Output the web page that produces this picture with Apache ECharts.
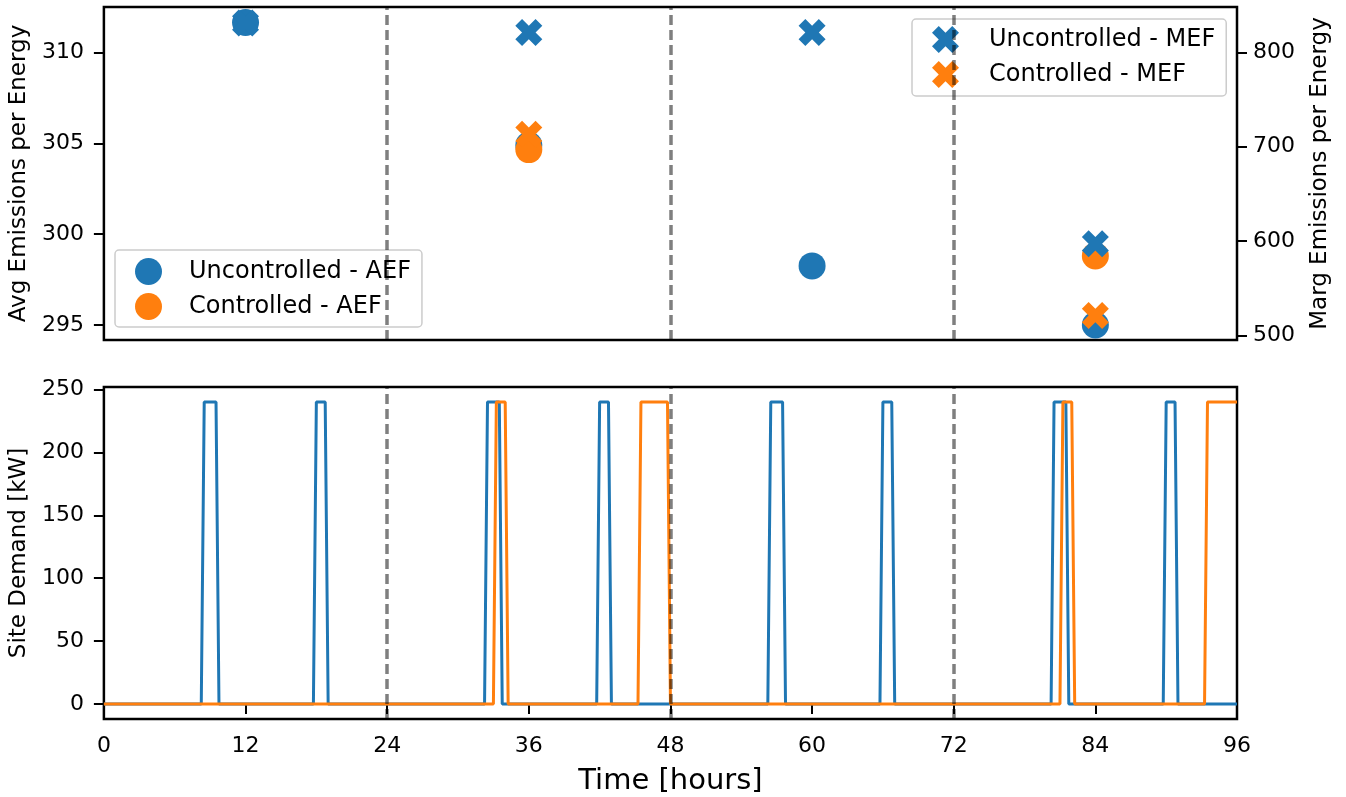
<!DOCTYPE html>
<html>
<head>
<meta charset="utf-8">
<script src="https://cdn.jsdelivr.net/npm/echarts@6/dist/echarts.min.js"></script>
<style>
html,body{margin:0;padding:0;background:#fff;}
#chart{width:1346px;height:797px;}
</style>
</head>
<body>
<div id="chart"></div>
<script>
// ---- data ----
const dayMid = [12, 36, 60, 84];
const uncAEF = [311.65, 304.9, 298.25, 295.0];
const ctrlAEF = [null, 304.65, null, 298.8];
const uncMEF = [831, 821, 821, 597];
const ctrlMEF = [null, 713, null, 521];

const uncTime = [0, 8.25, 8.5, 9.5, 9.75, 17.75, 18, 18.75, 19, 32.25, 32.5, 33.5, 33.75, 41.75, 42, 42.75, 43, 56.25, 56.5, 57.5, 57.75, 65.75, 66, 66.75, 67, 80.25, 80.5, 81.5, 81.75, 89.75, 90, 90.75, 91, 96];
const uncKW   = [0, 0, 240, 240, 0, 0, 240, 240, 0, 0, 240, 240, 0, 0, 240, 240, 0, 0, 240, 240, 0, 0, 240, 240, 0, 0, 240, 240, 0, 0, 240, 240, 0, 0];
const ctrlTime = [0, 33, 33.25, 34, 34.25, 45.25, 45.5, 47.75, 48, 81, 81.25, 82, 82.25, 93.25, 93.5, 96];
const ctrlKW   = [0, 0, 240, 240, 0, 0, 240, 240, 0, 0, 240, 240, 0, 0, 240, 240];

const dayBounds = [24, 48, 72];
const aefTicks = [295, 300, 305, 310];
const mefTicks = [500, 600, 700, 800];
const kwTicks = [0, 50, 100, 150, 200, 250];
const timeTicks = [0, 12, 24, 36, 48, 60, 72, 84, 96];

const names = {
  uA: 'Uncontrolled - AEF', cA: 'Controlled - AEF',
  uM: 'Uncontrolled - MEF', cM: 'Controlled - MEF'
};

// ---- styling ----
const BLUE = '#1f77b4', ORANGE = '#ff7f0e';
const FONT = 'DejaVu Sans';
const XPATH = 'path://M4242 0L5656 1414L4242 2828L5656 4242L4242 5656L2828 4242L1414 5656L0 4242L1414 2828L0 1414L1414 0L2828 1414Z';

function pairs(xs, ys) { return xs.map((x, i) => [x, ys[i]]); }

const tickStyle = { show: true, inside: false, length: 10, lineStyle: { color: '#000', width: 2 } };
const lblStyle = { color: '#000', fontFamily: FONT, fontSize: 22 };
const nameStyle = { color: '#000', fontFamily: FONT, fontSize: 23 };

const vline = {
  silent: true, symbol: 'none', label: { show: false },
  lineStyle: { color: 'rgba(0,0,0,0.5)', type: [10, 5], width: 3.5 },
  emphasis: { disabled: true },
  data: dayBounds.map(v => ({ xAxis: v }))
};

const chart = echarts.init(document.getElementById('chart'));
chart.setOption({
  animation: false,
  backgroundColor: '#fff',
  textStyle: { fontFamily: FONT },
  grid: [
    { left: 103, top: 7, width: 1134, height: 333, show: true, borderColor: '#000', borderWidth: 2.5, backgroundColor: 'transparent' },
    { left: 103, top: 387, width: 1134, height: 332, show: true, borderColor: '#000', borderWidth: 2.5, backgroundColor: 'transparent' }
  ],
  legend: [
    {
      left: 115, top: 250, orient: 'vertical', selectedMode: false,
      padding: [8, 11, 7, 20], itemGap: 8, itemWidth: 27, itemHeight: 27,
      backgroundColor: 'rgba(255,255,255,0.8)', borderColor: '#cccccc', borderWidth: 1.5, borderRadius: 4,
      textStyle: { color: '#000', fontFamily: FONT, fontSize: 24, padding: [0, 0, 0, 22] },
      data: [{ name: names.uA, icon: 'circle' }, { name: names.cA, icon: 'circle' }]
    },
    {
      left: 912, top: 19, orient: 'vertical', selectedMode: false,
      padding: [7, 11, 8, 20], itemGap: 8, itemWidth: 27, itemHeight: 27,
      backgroundColor: 'rgba(255,255,255,0.8)', borderColor: '#cccccc', borderWidth: 1.5, borderRadius: 4,
      textStyle: { color: '#000', fontFamily: FONT, fontSize: 24, padding: [0, 0, 0, 25] },
      data: [{ name: names.uM, icon: XPATH }, { name: names.cM, icon: XPATH }]
    }
  ],
  xAxis: [
    { type: 'value', gridIndex: 0, min: 0, max: 96, interval: 12,
      axisLine: { show: false }, axisTick: { show: false }, axisLabel: { show: false }, splitLine: { show: false } },
    { type: 'value', gridIndex: 1, min: 0, max: 96, interval: 12,
      axisLine: { show: false }, axisTick: tickStyle,
      axisLabel: Object.assign({ margin: 16, customValues: timeTicks }, lblStyle),
      splitLine: { show: false },
      name: 'Time [hours]', nameLocation: 'middle', nameGap: 48,
      nameTextStyle: { color: '#000', fontFamily: FONT, fontSize: 29 } }
  ],
  yAxis: [
    { type: 'value', gridIndex: 0, position: 'left', min: 294.17, max: 312.5,
      axisLine: { show: false }, splitLine: { show: false },
      axisTick: Object.assign({ customValues: aefTicks }, tickStyle),
      axisLabel: Object.assign({ margin: 20, customValues: aefTicks }, lblStyle),
      name: 'Avg Emissions per Energy', nameLocation: 'middle', nameGap: 70, nameRotate: 90,
      nameTextStyle: nameStyle },
    { type: 'value', gridIndex: 0, position: 'right', min: 495, max: 848,
      axisLine: { show: false }, splitLine: { show: false },
      axisTick: Object.assign({ customValues: mefTicks }, tickStyle),
      axisLabel: Object.assign({ margin: 16, customValues: mefTicks }, lblStyle),
      name: 'Marg Emissions per Energy', nameLocation: 'middle', nameGap: 72, nameRotate: 90,
      nameTextStyle: nameStyle },
    { type: 'value', gridIndex: 1, position: 'left', min: -12, max: 252,
      axisLine: { show: false }, splitLine: { show: false },
      axisTick: Object.assign({ customValues: kwTicks }, tickStyle),
      axisLabel: Object.assign({ margin: 20, customValues: kwTicks }, lblStyle),
      name: 'Site Demand [kW]', nameLocation: 'middle', nameGap: 70, nameRotate: 90,
      nameTextStyle: nameStyle }
  ],
  series: [
    { name: names.uA, type: 'scatter', xAxisIndex: 0, yAxisIndex: 0, symbol: 'circle', symbolSize: 27,
      itemStyle: { color: BLUE, opacity: 1 }, z: 2, data: pairs(dayMid, uncAEF), markLine: vline },
    { name: names.cA, type: 'scatter', xAxisIndex: 0, yAxisIndex: 0, symbol: 'circle', symbolSize: 27,
      itemStyle: { color: ORANGE, opacity: 1 }, z: 3, data: pairs(dayMid, ctrlAEF) },
    { name: names.uM, type: 'scatter', xAxisIndex: 0, yAxisIndex: 1, symbol: XPATH, symbolSize: 27,
      itemStyle: { color: BLUE, opacity: 1 }, z: 4, data: pairs(dayMid, uncMEF) },
    { name: names.cM, type: 'scatter', xAxisIndex: 0, yAxisIndex: 1, symbol: XPATH, symbolSize: 27,
      itemStyle: { color: ORANGE, opacity: 1 }, z: 5, data: pairs(dayMid, ctrlMEF) },
    { name: 'Uncontrolled demand', type: 'line', xAxisIndex: 1, yAxisIndex: 2, showSymbol: false, symbol: 'none',
      lineStyle: { color: BLUE, width: 3 }, z: 2, data: pairs(uncTime, uncKW) },
    { name: 'Controlled demand', type: 'line', xAxisIndex: 1, yAxisIndex: 2, showSymbol: false, symbol: 'none',
      lineStyle: { color: ORANGE, width: 3 }, z: 3, data: pairs(ctrlTime, ctrlKW) },
    { name: 'bounds', type: 'line', xAxisIndex: 1, yAxisIndex: 2, data: [], z: 6, markLine: vline }
  ]
});
</script>
</body>
</html>
